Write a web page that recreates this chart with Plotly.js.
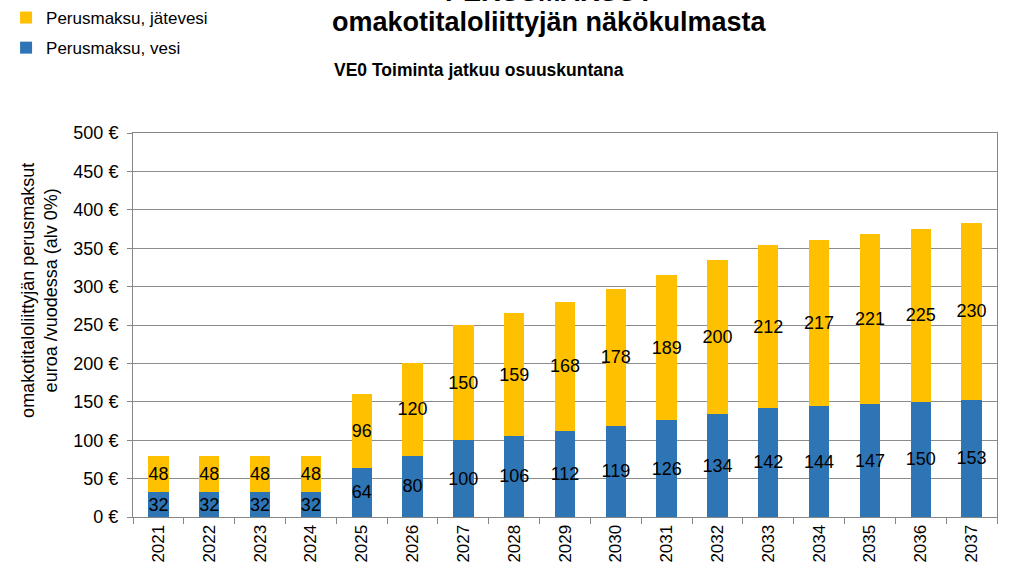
<!DOCTYPE html>
<html>
<head>
<meta charset="utf-8">
<script src="https://cdn.plot.ly/plotly-3.0.1.min.js"></script>
<style>html,body{margin:0;padding:0;background:#fff;}#chart{width:1011px;height:572px;}</style>
</head>
<body>
<div id="chart"></div>
<script>
const years = ['2021','2022','2023','2024','2025','2026','2027','2028','2029','2030','2031','2032','2033','2034','2035','2036','2037'];
const vesi = [32,32,32,32,64,80,100,106,112,119,126,134,142,144,147,150,153];
const jatevesi = [48,48,48,48,96,120,150,159,168,178,189,200,212,217,221,225,230];
const yTicks = [0,50,100,150,200,250,300,350,400,450,500];
const yTickLabels = ['0 €','50 €','100 €','150 €','200 €','250 €','300 €','350 €','400 €','450 €','500 €'];

const FONT = 'Liberation Sans, Arial, sans-serif';
const labelFont = {family: FONT, size: 18, color: '#000'};

const traces = [
  {
    type: 'bar', name: 'Perusmaksu, vesi', x: years, y: vesi,
    marker: {color: '#2E75B6'},
    text: vesi.map(String), textposition: 'inside', insidetextanchor: 'middle',
    textangle: 0, constraintext: 'none', textfont: labelFont,
    legendgroup: 'b', legendrank: 2, hoverinfo: 'x+y'
  },
  {
    type: 'bar', name: 'Perusmaksu, jätevesi', x: years, y: jatevesi,
    marker: {color: '#FFC000'},
    text: jatevesi.map(String), textposition: 'inside', insidetextanchor: 'middle',
    textangle: 0, constraintext: 'none', textfont: labelFont,
    legendgroup: 'a', legendrank: 1, hoverinfo: 'x+y'
  }
];

const layout = {
  width: 1011, height: 572,
  margin: {l: 133, r: 14, t: 133, b: 55, autoexpand: false},
  paper_bgcolor: '#fff', plot_bgcolor: '#fff',
  barmode: 'stack', bargap: 0.6,
  font: {family: FONT, size: 17, color: '#000'},
  showlegend: true,
  legend: {
    xref: 'container', yref: 'container',
    x: 0.006, y: 1.0, xanchor: 'left', yanchor: 'top',
    traceorder: 'grouped', tracegroupgap: 5,
    font: {family: FONT, size: 17, color: '#000'},
    bgcolor: 'rgba(0,0,0,0)'
  },
  xaxis: {
    type: 'category', tickangle: -90, tickson: 'boundaries',
    ticks: 'outside', ticklen: 6, tickcolor: '#868686',
    showline: true, linecolor: '#868686', linewidth: 1, mirror: true,
    showgrid: false, tickfont: {family: FONT, size: 17, color: '#000'}
  },
  yaxis: {
    range: [0, 500], tickmode: 'array', tickvals: yTicks, ticktext: yTickLabels,
    ticks: 'outside', ticklen: 5, tickcolor: '#868686', ticklabelstandoff: 5,
    showline: true, linecolor: '#868686', linewidth: 1, mirror: true,
    showgrid: true, gridcolor: '#8c8c8c', gridwidth: 1, zeroline: false,
    tickfont: {family: FONT, size: 18, color: '#000'}
  },
  annotations: [
    {text: '<b>PERUSMAKSUT</b>', xref: 'paper', yref: 'paper', x: 0.4815, y: 1.366, xanchor: 'center', yanchor: 'middle', showarrow: false, font: {family: FONT, size: 27, color: '#000'}},
    {text: '<b>omakotitaloliittyjän näkökulmasta</b>', xref: 'paper', yref: 'paper', x: 0.4815, y: 1.289, xanchor: 'center', yanchor: 'middle', showarrow: false, font: {family: FONT, size: 27, color: '#000'}},
    {text: '<b>VE0 Toiminta jatkuu osuuskuntana</b>', xref: 'paper', yref: 'paper', x: 0.401, y: 1.164, xanchor: 'center', yanchor: 'middle', showarrow: false, font: {family: FONT, size: 17.5, color: '#000'}},
    {text: 'omakotitaloliittyjän perusmaksut<br>euroa /vuodessa (alv 0%)', xref: 'paper', yref: 'paper', x: -0.109, y: 0.591, xanchor: 'center', yanchor: 'middle', textangle: -90, showarrow: false, align: 'center', font: {family: FONT, size: 18, color: '#000'}}
  ]
};

Plotly.newPlot('chart', traces, layout, {displayModeBar: false, staticPlot: true});
</script>
</body>
</html>
